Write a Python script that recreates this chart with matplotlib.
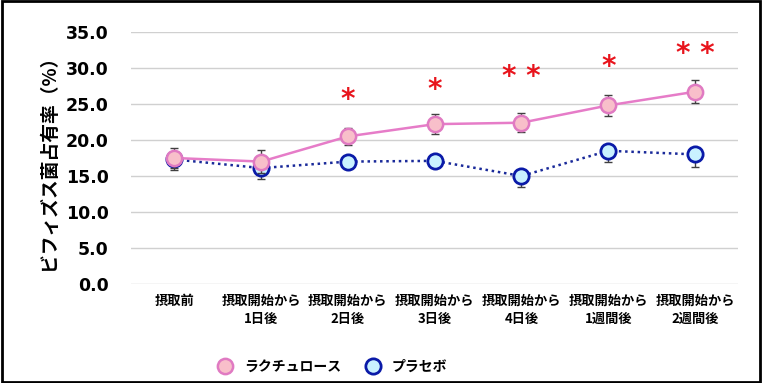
import matplotlib
matplotlib.use("Agg")
import matplotlib.pyplot as plt
from matplotlib.patches import Rectangle

categories = ["摂取前", "摂取開始から\n1日後", "摂取開始から\n2日後", "摂取開始から\n3日後",
              "摂取開始から\n4日後", "摂取開始から\n1週間後", "摂取開始から\n2週間後"]
lactulose = [17.5, 17.0, 20.5, 22.2, 22.4, 24.8, 26.7]
lactulose_err = [1.4, 1.6, 1.2, 1.4, 1.3, 1.4, 1.6]
placebo = [17.3, 16.1, 17.0, 17.1, 15.0, 18.5, 18.0]
placebo_err = [1.5, 1.5, 1.0, 1.0, 1.5, 1.5, 1.8]
sig_labels = ["", "", "*", "*", "**", "*", "**"]
sig_y = [25.6, 0, 25.6, 27.0, 28.7, 30.2, 32.0]
yticks = [0, 5, 10, 15, 20, 25, 30, 35]

plt.rcParams['font.family'] = ['Noto Sans CJK JP', 'DejaVu Sans']

fig = plt.figure(figsize=(7.62, 3.83), dpi=100)
ax = fig.add_axes([0.172, 0.2585, 0.797, 0.658])

x = list(range(len(categories)))

ax.errorbar(x, placebo, yerr=[placebo_err, [0]*len(placebo_err)],
            fmt='none', ecolor='#404040', elinewidth=1, capsize=3, zorder=2)
ax.plot(x, placebo, linestyle=(0, (1, 1.5)), color='#1a2a9a', linewidth=1.8, zorder=3)
ax.plot(x, placebo, linestyle='none', marker='o', markersize=11, markerfacecolor='#c9f1ff',
        markeredgecolor='#0a1aa8', markeredgewidth=2, zorder=4, label='プラセボ')

ax.errorbar(x, lactulose, yerr=[lactulose_err, lactulose_err],
            fmt='none', ecolor='#404040', elinewidth=1, capsize=3, zorder=5)
ax.plot(x, lactulose, linestyle='-', color='#e67cc8', linewidth=1.8, zorder=6)
ax.plot(x, lactulose, linestyle='none', marker='o', markersize=11, markerfacecolor='#f8bfca',
        markeredgecolor='#e07ac2', markeredgewidth=1.8, zorder=7, label='ラクチュロース')

for xi, s, yv in zip(x, sig_labels, sig_y):
    if s:
        ax.text(xi, yv, " ".join(s), ha='center', va='center', color='#e8141c',
                fontsize=20, fontfamily='DejaVu Sans', fontweight='bold')

ax.set_xlim(-0.5, len(categories) - 0.5)
ax.set_ylim(0, 35)
ax.set_yticks(yticks)
ax.set_yticklabels([f"{v:.1f}" for v in yticks], fontsize=12.5, fontweight='bold',
                   fontfamily='DejaVu Sans')
ax.set_xticks(x)
ax.set_xticklabels(categories, fontsize=9.5, fontweight='bold', linespacing=1.35)
ax.tick_params(axis='both', length=0)
ax.tick_params(axis='y', pad=16)
ax.tick_params(axis='x', pad=7)
ax.grid(axis='y', color='#d0d0d0', linewidth=1)
ax.set_axisbelow(True)
for sp in ax.spines.values():
    sp.set_visible(False)
ax.set_ylabel("ビフィズス菌占有率（%）", fontsize=13.5, fontweight='bold', labelpad=6)

handles, labels = ax.get_legend_handles_labels()
order = [1, 0]
leg = fig.legend([handles[i] for i in order], [labels[i] for i in order],
                 loc='center', bbox_to_anchor=(0.432, 0.042), ncol=2, frameon=False,
                 fontsize=10, columnspacing=1.3, handletextpad=0.35)
for t in leg.get_texts():
    t.set_fontweight('bold')

fig.patches.append(Rectangle((0.002, 0.003), 0.996, 0.994, transform=fig.transFigure,
                             fill=False, edgecolor='black', linewidth=2))

fig.savefig("out.png", dpi=100)
